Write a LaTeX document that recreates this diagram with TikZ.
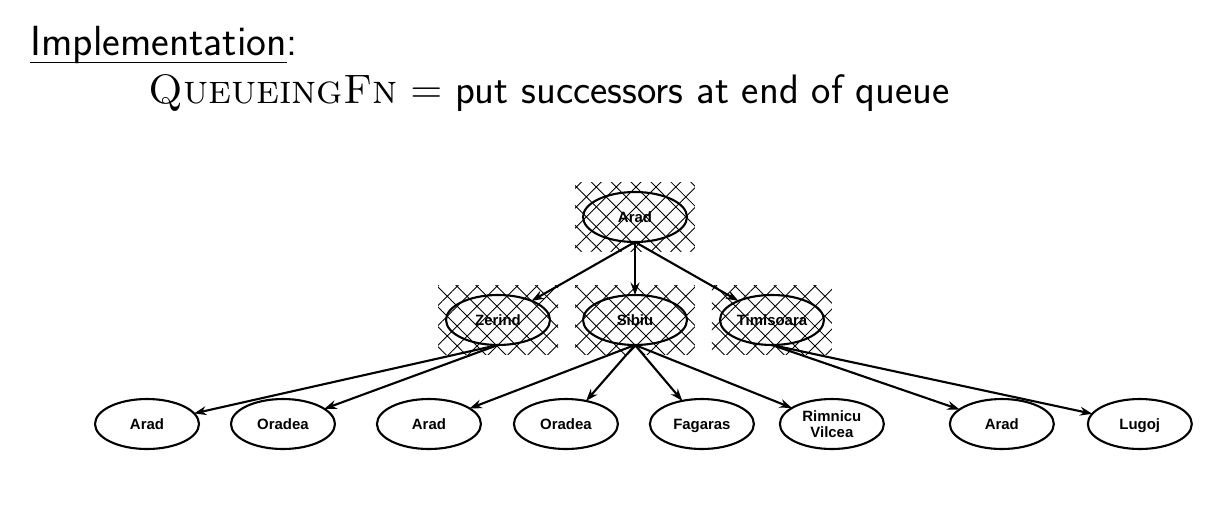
\documentclass[tikz,border=0pt]{standalone}
\usepackage{fontspec}
\newfontfamily\cityfont{Liberation Sans}
\usepackage{amsmath}
\usepackage{tikz}
\usetikzlibrary{arrows.meta,positioning,shapes,fit,backgrounds,patterns.meta}
\newcommand\titleline[1]{\setbox0\hbox{#1}\rlap{\rule[-4.6pt]{\wd0}{0.6pt}}\box0}

\begin{document}
\begin{tikzpicture}[x=0.02cm, y=-0.02cm,
	city/.style={ellipse, draw, line width=1.2pt, minimum width=2.08cm, minimum height=1cm, inner sep=0pt, outer sep=0pt, align=center, text height=6.2pt, text depth=0pt, font=\cityfont\bfseries\fontsize{8.5}{9.5}\selectfont},
	seen/.style={pattern={Hatch[angle=45,distance=8pt,line width=0.5pt]}, inner xsep=0.16cm, inner ysep=0.19cm},
	tree/.style={-{Stealth[length=7pt,width=5pt]}, line width=1.2pt},
	title/.style={anchor=base west, inner sep=0pt, font=\sffamily\fontsize{24}{29}\selectfont}]
		\useasboundingbox (0,0) rectangle (1231,505);
		\node[title] (impl) at (30,55) {\titleline{Implementation}:};
		\node[title, font=\sffamily\fontsize{23.4}{29}\selectfont] (qfn) at (148,103) {{\rmfamily\textsc{QueueingFn}} $=$ put successors at end of queue};
		\node[city] (arad) at (635,217) {Arad};
		\node[city] (sibiu)[below=1.06cm of arad]{Sibiu};
		\node[city] (zerind)[left=0.66cm of sibiu]{Zerind};
		\node[city] (timisoara)[right=0.66cm of sibiu]{Timisoara};
		\node[city] (a1) at (147,424) {Arad};
		\node[city] (o1)[right=0.64cm of a1]{Oradea};
		\node[city] (a2)[right=0.84cm of o1]{Arad};
		\node[city] (o2)[right=0.66cm of a2]{Oradea};
		\node[city] (fagaras)[right=0.64cm of o2]{Fagaras};
		\node[city, text height=, text depth=] (rimnicu)[right=0.52cm of fagaras]{Rimnicu\\Vilcea};
		\node[city] (a3)[right=1.32cm of rimnicu]{Arad};
		\node[city] (lugoj)[right=0.68cm of a3]{Lugoj};
		\begin{scope}[on background layer]
			\node[seen, fit=(arad)] (aradbox){};
			\node[seen, fit=(zerind)] (zerindbox){};
			\node[seen, fit=(sibiu)] (sibiubox){};
			\node[seen, fit=(timisoara)] (timisoarabox){};
		\end{scope}
		\draw[tree] (arad.south)--(zerind);
		\draw[tree] (arad.south)--(sibiu);
		\draw[tree] (arad.south)--(timisoara);
		\draw[tree] (zerind.south)--(a1);
		\draw[tree] (zerind.south)--(o1);
		\draw[tree] (sibiu.south)--(a2);
		\draw[tree] (sibiu.south)--(o2);
		\draw[tree] (sibiu.south)--(fagaras);
		\draw[tree] (sibiu.south)--(rimnicu);
		\draw[tree] (timisoara.south)--(a3);
		\draw[tree] (timisoara.south)--(lugoj);
	\end{tikzpicture}
\end{document}
